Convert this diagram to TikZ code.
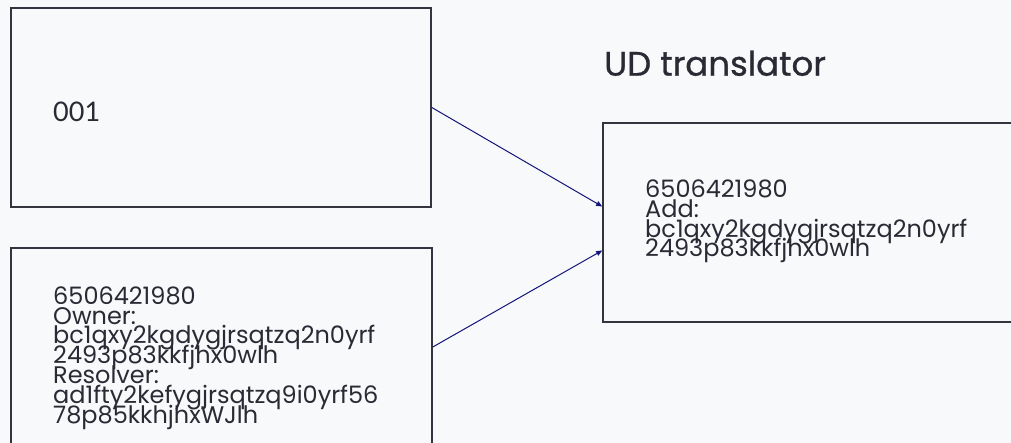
\documentclass[tikz,border=0pt]{standalone}
\usepackage{fontspec}
\setmainfont{Poppins}
\newfontfamily\latofont{Lato}
\newfontfamily\titlefont{Poppins}[FakeBold=0.8]
\usetikzlibrary{arrows.meta}
\definecolor{bgc}{HTML}{F8F9FB}
\definecolor{edgec}{HTML}{34343F}
\definecolor{txtc}{HTML}{2A2A35}
\definecolor{arrc}{HTML}{14147A}
\newcommand{\tightlines}{\lineskiplimit=-100pt\relax\lineskip=0pt\relax}
\tikzset{
  box/.style={draw=edgec, line width=1.6pt, fill=bgc, rectangle, inner sep=0pt},
  boxtext/.style={anchor=base west, inner sep=0pt, align=left, text=txtc,
    font=\fontsize{24}{19.8}\selectfont\tightlines},
  conn/.style={draw=arrc, line width=1pt, -{Triangle[length=6pt,width=5pt]}},
}
\begin{document}
\begin{tikzpicture}[x=1pt,y=-1pt]
\fill[bgc] (0,0) rectangle (1011,443);
\useasboundingbox (0,0) rectangle (1011,443);
\clip (0,0) rectangle (1011,443);
\node[box, minimum width=420pt, minimum height=199pt] (b1) at (221,107.5) {};
\node[box, minimum width=421pt, minimum height=222pt] (b2) at (221.5,359) {};
\node[box, minimum width=437pt, minimum height=199pt] (b3) at (821.5,222.5) {};
\node[anchor=base west, inner sep=0pt, text=txtc, font=\latofont\fontsize{27}{27}\selectfont] (t1) at (53,122) {001};
\node[boxtext] (t2) at (53,423) {6506421980\\Owner:\\bc1qxy2kgdygjrsqtzq2n0yrf\\2493p83kkfjhx0wlh\\Resolver:\\ad1fty2kefygjrsqtzq9i0yrf56\\78p85kkhjhxWJlh};
\node[boxtext] (t3) at (645,257) {6506421980\\Add:\\bc1qxy2kgdygjrsqtzq2n0yrf\\2493p83kkfjhx0wlh};
\node[anchor=base west, inner sep=0pt, text=txtc, font=\titlefont\fontsize{34}{34}\selectfont] (title) at (604,75.7) {UD translator};
\draw[conn] (b1.east) -- ([yshift=16pt]b3.west);
\draw[conn] ([yshift=12pt]b2.east) -- ([yshift=-28pt]b3.west);
\end{tikzpicture}
\end{document}
